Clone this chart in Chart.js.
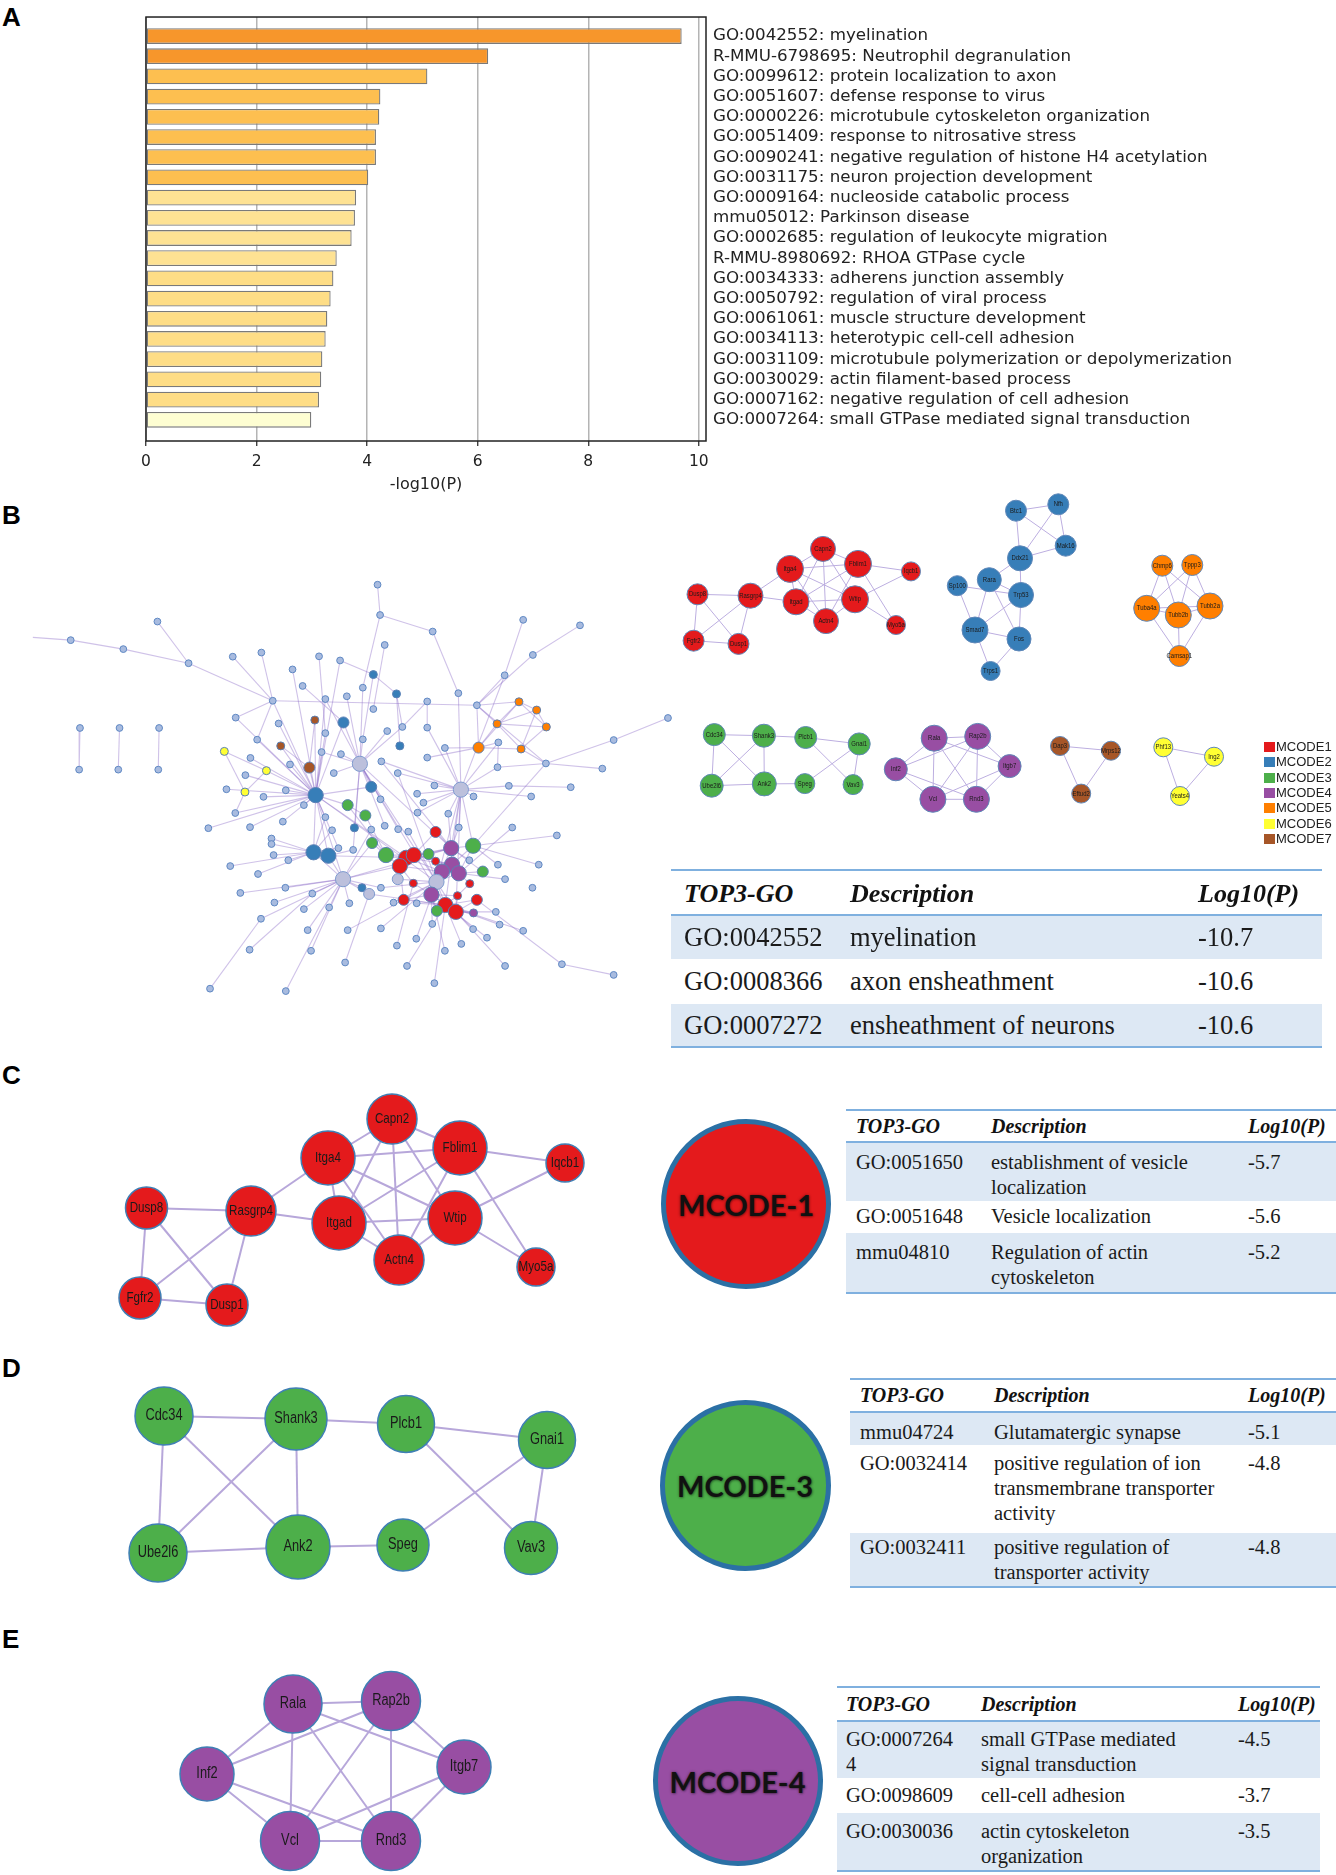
<!DOCTYPE html>
<html><head><meta charset="utf-8">
<script src="https://cdn.jsdelivr.net/npm/chart.js@4.4.0/dist/chart.umd.min.js"></script>
<style>
html,body{margin:0;padding:0;background:#fff;}
body{width:1336px;height:1875px;position:relative;overflow:hidden;font-family:"Liberation Sans",Arial,sans-serif;}
canvas{position:absolute;}
.plabel{position:absolute;font:bold 26px/26px "Liberation Sans",Arial,sans-serif;color:#000;}
.band{position:absolute;background:#dde8f4;}
.tline{position:absolute;height:2px;background:#7fb0df;}
.cell{position:absolute;font-family:"Liberation Serif","Times New Roman",serif;color:#1a1a1a;white-space:normal;}
.hcell{position:absolute;font-family:"Liberation Serif","Times New Roman",serif;font-weight:bold;font-style:italic;color:#111;white-space:nowrap;}
.mc{position:absolute;box-sizing:border-box;border:5px solid #2b70a5;border-radius:50%;display:flex;align-items:center;justify-content:center;
 font:bold 29px Lato,"Open Sans",sans-serif;color:#111;text-shadow:0 0 3px rgba(0,0,0,.45),1px 1px 2px rgba(0,0,0,.25);}
.lg{position:absolute;font:13px "Liberation Sans",Arial,sans-serif;color:#222;line-height:13px;}
.lgsq{position:absolute;width:11px;height:10px;}
</style></head><body>

<div class="plabel" style="left:2px;top:3.6px">A</div>
<div class="plabel" style="left:2px;top:501.6px">B</div>
<div class="plabel" style="left:2px;top:1061.6px">C</div>
<div class="plabel" style="left:2px;top:1354.6px">D</div>
<div class="plabel" style="left:2px;top:1626px">E</div>

<canvas id="cA" width="1336" height="500" style="left:0;top:0"></canvas>
<canvas id="cBig" width="680" height="540" style="left:0;top:490px"></canvas>
<canvas id="cMod" width="620" height="330" style="left:660px;top:490px"></canvas>
<canvas id="cC" width="560" height="260" style="left:60px;top:1080px"></canvas>
<canvas id="cD" width="560" height="230" style="left:60px;top:1370px"></canvas>
<canvas id="cE" width="420" height="225" style="left:120px;top:1650px"></canvas>
<div id="legendB"></div>
<div id="tables"></div>
<div class="mc" style="left:661px;top:1119px;width:170px;height:170px;background:#E41A1C">MCODE-1</div>
<div class="mc" style="left:659.5px;top:1399.5px;width:171px;height:171px;background:#4DAF4A">MCODE-3</div>
<div class="mc" style="left:652.5px;top:1696px;width:170px;height:170px;background:#984EA3">MCODE-4</div>

<script>
// ---------------- Panel A data ----------------
const termLabels = [
  'GO:0042552: myelination',
  'R-MMU-6798695: Neutrophil degranulation',
  'GO:0099612: protein localization to axon',
  'GO:0051607: defense response to virus',
  'GO:0000226: microtubule cytoskeleton organization',
  'GO:0051409: response to nitrosative stress',
  'GO:0090241: negative regulation of histone H4 acetylation',
  'GO:0031175: neuron projection development',
  'GO:0009164: nucleoside catabolic process',
  'mmu05012: Parkinson disease',
  'GO:0002685: regulation of leukocyte migration',
  'R-MMU-8980692: RHOA GTPase cycle',
  'GO:0034333: adherens junction assembly',
  'GO:0050792: regulation of viral process',
  'GO:0061061: muscle structure development',
  'GO:0034113: heterotypic cell-cell adhesion',
  'GO:0031109: microtubule polymerization or depolymerization',
  'GO:0030029: actin filament-based process',
  'GO:0007162: negative regulation of cell adhesion',
  'GO:0007264: small GTPase mediated signal transduction'
];
const termValues = [9.69, 6.19, 5.09, 4.24, 4.22, 4.16, 4.16, 4.02, 3.80, 3.78, 3.72, 3.45, 3.39, 3.34, 3.28, 3.25, 3.19, 3.17, 3.13, 2.99];
const xAxisTitle = '-log10(P)';

// ---------------- Panel B big network (layout units) ----------------
const bigX = [78,897,903,1028,914,374,168,293,448,553,
 621,758,808,695,719,1243,1378,1266,1199,1089,
 1133,1015,887,942,862,824,773,648,887,560,
 662,748,816,773,862,920,956,1015,1233,1275,
 1181,1298,1137,1238,1184,1458,1587,1297,1431,1356,
 1209,1262,1182,1057,1015,950,906,945,855,810,
 764,667,611,595,533,633,583,689,735,793,
 538,582,626,679,750,722,882,904,1095,1125,
 1032,991,1006,992,826,868,773,672,594,559,
 495,645,842,789,882,914,946,970,1035,1090,
 1065,1217,1323,884,917,965,983,1018,1035,1072,
 1124,1074,1090,1050,950,1147,1116,1200,1280,1183,
 1115,1265,745,780,804,839,685,650,547,613,
 645,815,945,982,1037,860,877,905,1025,959,
 1087,1133,1058,1083,1038,1125,1178,1187,1243,1124,
 1157,1096,1057,1027,989,935,990,943,967,1032,
 1200,1335,1458,905,830,782,742,722,678,652,
 620,571,731,826,739,820,593,499,679,190,
 188,284,281,378,376];
const bigY = [428,275,363,411,450,382,436,462,503,484,
 472,483,495,521,569,377,393,479,538,590,
 625,614,536,592,574,599,607,612,636,661,
 678,668,675,706,724,700,688,690,615,639,
 679,688,748,752,733,726,662,794,809,863,
 859,890,805,749,777,743,788,822,795,767,
 761,743,725,778,759,815,828,797,806,822,
 869,877,891,872,886,915,862,898,870,890,
 858,882,908,937,915,945,950,963,979,938,
 982,1012,981,988,986,975,985,992,993,980,
 940,980,1003,1025,1060,1068,1060,1057,1078,1040,
 1033,1088,1113,1108,1092,1108,1143,1130,1088,1088,
 1075,1155,1052,1062,1040,1045,1075,1060,1092,1115,
 1028,1130,1130,1142,1138,1155,1173,1155,1175,1190,
 1178,1190,1205,1225,1222,1228,1225,1262,1280,1275,
 1300,1318,1338,1260,1303,1198,1200,1323,1382,1432,
 1382,1377,1408,1273,1200,1212,1172,1217,1155,1198,
 1245,1170,1278,1278,1338,1372,1335,1448,1455,691,
 812,691,812,691,812];
// module membership of nodes (r,b,g,p,o,y,w = MCODE1..7; h = hub; n = other; x = off-canvas end)
const bigGroupOf = {0:'x',22:'b',23:'b',31:'w',32:'b',38:'o',39:'o',40:'o',41:'o',42:'o',43:'o',55:'b',58:'h',61:'w',64:'y',65:'y',68:'w',71:'y',
 74:'b',76:'b',78:'h',84:'g',85:'g',92:'b',98:'r',103:'g',104:'g',105:'r',106:'r',107:'g',108:'r',109:'p',110:'g',111:'p',112:'p',113:'p',
 114:'r',115:'g',116:'r',122:'b',123:'b',131:'h',132:'h',133:'r',134:'h',135:'b',136:'h',138:'p',139:'r',140:'r',141:'r',142:'r',143:'r',144:'g',145:'p'};
// node degree class (1 small, 2 medium, 3 large)
const bigDegreeOf = {0:0,32:2,42:2,58:3,68:2,74:3,76:2,78:3,84:2,85:2,98:2,103:2,104:3,105:3,106:3,107:2,109:3,110:3,111:3,112:3,113:3,
 114:3,115:2,122:3,123:3,131:3,132:2,134:3,136:2,138:3,139:2,141:2,142:3,143:3,144:2};
const bigEdges = [[0,6],[6,7],[7,8],[8,27],[5,8],[1,2],[2,3],[2,24],[3,19],[19,78],[4,28],[27,20],[9,27],[10,27],[27,74],[27,62],[27,29],
 [13,74],[14,32],[11,33],[12,22],[12,74],[22,23],[22,34],[23,36],[23,55],[24,58],[25,58],[26,58],[26,74],
 [15,18],[16,17],[17,20],[18,20],[18,78],[20,38],[20,40],[20,42],[20,47],
 [38,39],[38,40],[38,41],[38,42],[39,40],[39,41],[39,43],[40,42],[40,41],[41,43],[42,43],[40,43],
 [42,54],[42,53],[43,47],[44,42],[44,52],[46,45],[45,47],[47,48],[47,110],[47,52],
 [49,50],[50,78],[51,78],[52,78],[53,78],[37,78],[44,78],[21,37],[21,36],[29,74],[30,74],[31,68],[31,74],[32,74],[32,58],[33,74],
 [34,58],[35,58],[36,58],[59,58],[60,74],[60,58],[61,68],[61,74],[62,74],[63,74],[64,65],[64,71],[65,71],[65,74],[66,74],[67,74],[68,74],
 [69,58],[70,74],[71,89],[72,74],[73,74],[75,74],[76,58],[76,74],[77,58],
 [78,79],[78,80],[78,81],[78,82],[78,83],[78,99],[78,100],[78,109],[78,110],[78,134],[78,56],[78,57],[78,142],[78,143],
 [84,74],[84,85],[85,104],[84,104],[86,74],[86,122],[87,74],[88,74],[89,74],[90,74],[91,122],[92,58],[93,122],[94,131],[95,58],[96,58],
 [97,134],[98,109],[98,106],[99,109],[100,109],[101,112],[102,110],[103,131],[103,104],
 [104,105],[104,106],[104,114],[105,106],[105,109],[105,111],[105,113],[105,114],[106,107],[106,109],[106,111],[107,109],[107,113],
 [108,111],[108,113],[109,110],[109,111],[109,112],[110,111],[110,112],[111,112],[111,113],[112,113],[112,115],[113,114],[113,138],
 [114,133],[114,139],[115,109],[116,112],[116,140],[117,112],[118,110],[119,110],[120,109],
 [122,123],[122,127],[122,128],[122,129],[122,126],[122,130],[122,124],[122,74],[122,131],[123,131],[123,125],[123,74],[123,105],[124,74],[125,58],
 [131,164],[131,165],[131,166],[131,167],[131,169],[131,170],[131,168],[131,171],[131,136],[131,109],[131,114],[131,137],[131,172],[131,174],
 [132,105],[132,134],[133,138],[134,138],[134,142],[134,143],[134,109],[134,111],[134,112],[135,131],[135,136],[136,142],[137,134],
 [138,139],[138,140],[138,142],[138,143],[138,144],[139,142],[140,143],[140,142],[141,143],[141,142],[142,143],[142,144],[143,145],[144,143],[145,142],
 [146,143],[147,142],[148,142],[149,143],[150,142],[151,142],[152,138],[153,138],[154,134],[155,134],[156,142],[157,133],[158,142],[159,142],
 [160,143],[161,141],[162,161],[163,134],[173,134],[175,136],[176,166],[177,170],[178,165],[179,180],[181,182],[183,184],
 [56,109],[57,134],[74,105],[74,131],[74,134],[58,109],[58,134],[58,142]];

// ---------------- Panel B modules (layout units = page px) ----------------
const mod1Names = ['Capn2','Fblim1','Itga4','Iqcb1','Dusp8','Rasgrp4','Itgad','Wtip','Actn4','Myo5a','Fgfr2','Dusp1'];
const mod1X = [823,858,790,911,697.5,750.5,796,855,826,896,693.6,738.5];
const mod1Y = [548.9,563.9,568.9,571.4,594.3,595.7,601.8,599.3,621.1,625,640.7,643.9];
const mod1Edges = [['Dusp8','Rasgrp4'],['Dusp8','Fgfr2'],['Dusp8','Dusp1'],['Rasgrp4','Fgfr2'],['Rasgrp4','Dusp1'],['Fgfr2','Dusp1'],
 ['Rasgrp4','Itga4'],['Rasgrp4','Itgad'],['Itga4','Capn2'],['Itga4','Fblim1'],['Itga4','Itgad'],['Itga4','Actn4'],['Itga4','Wtip'],
 ['Capn2','Itgad'],['Capn2','Actn4'],['Capn2','Fblim1'],['Capn2','Wtip'],['Fblim1','Itgad'],['Fblim1','Actn4'],['Fblim1','Iqcb1'],
 ['Fblim1','Myo5a'],['Itgad','Wtip'],['Itgad','Actn4'],['Wtip','Actn4'],['Wtip','Iqcb1'],['Wtip','Myo5a']];
const mod2Names = ['Btc1','Nfh','Mak16','Ddx21','Rara','Sp100','Trp53','Smad7','Fos','Trps1'];
const mod2X = [1016,1058.3,1065.7,1020,989.3,957.3,1021,975,1019,990.6];
const mod2Y = [510.7,504.3,545.7,558.3,579.7,585.7,595,630,639,671];
const mod2Edges = [['Btc1','Nfh'],['Btc1','Ddx21'],['Btc1','Mak16'],['Nfh','Ddx21'],['Nfh','Mak16'],['Ddx21','Mak16'],['Ddx21','Rara'],
 ['Ddx21','Trp53'],['Rara','Trp53'],['Sp100','Trp53'],['Sp100','Smad7'],['Rara','Smad7'],['Rara','Fos'],['Trp53','Smad7'],['Trp53','Fos'],
 ['Smad7','Fos'],['Smad7','Trps1'],['Fos','Trps1']];
const mod3Names = ['Cdc34','Shank3','Plcb1','Gnai1','Ube2l6','Ank2','Speg','Vav3'];
const mod3X = [714.3,763.9,805.7,859.2,711.7,764.3,804.8,853.1];
const mod3Y = [734.6,735.7,737.5,743.9,785.7,783.9,783.6,784.6];
const mod3Edges = [['Cdc34','Shank3'],['Cdc34','Ube2l6'],['Cdc34','Ank2'],['Shank3','Ube2l6'],['Shank3','Ank2'],['Shank3','Plcb1'],
 ['Ube2l6','Ank2'],['Ank2','Speg'],['Plcb1','Gnai1'],['Plcb1','Vav3'],['Gnai1','Speg'],['Gnai1','Vav3']];
const mod4Names = ['Rala','Rap2b','Inf2','Itgb7','Vcl','Rnd3'];
const mod4X = [934.2,977.7,895.8,1009.6,932.9,976.4];
const mod4Y = [738.2,736.4,769.3,766.1,799.3,799.3];
const mod4Edges = [['Rala','Rap2b'],['Rala','Inf2'],['Rala','Vcl'],['Rala','Rnd3'],['Rala','Itgb7'],['Rap2b','Inf2'],['Rap2b','Vcl'],
 ['Rap2b','Rnd3'],['Rap2b','Itgb7'],['Inf2','Vcl'],['Inf2','Rnd3'],['Itgb7','Vcl'],['Itgb7','Rnd3'],['Vcl','Rnd3']];
const mod5Names = ['Chmp6','Tppp3','Tuba4a','Tubb2b','Tubb2a','Camsap1'];
const mod5X = [1162.3,1192.3,1146.7,1178.3,1210,1179.3];
const mod5Y = [565.7,565,608.3,615,606,656];
const mod5Edges = [['Chmp6','Tuba4a'],['Chmp6','Tubb2b'],['Chmp6','Tubb2a'],['Tppp3','Tuba4a'],['Tppp3','Tubb2b'],['Tppp3','Tubb2a'],
 ['Tuba4a','Tubb2b'],['Tuba4a','Tubb2a'],['Tubb2b','Tubb2a'],['Tuba4a','Camsap1'],['Tubb2b','Camsap1'],['Tubb2a','Camsap1']];
const mod6Names = ['Phf13','Ing2','Yeats4'];
const mod6X = [1163.3,1214,1180];
const mod6Y = [747.3,756.7,796];
const mod6Edges = [['Phf13','Ing2'],['Phf13','Yeats4'],['Ing2','Yeats4']];
const mod7Names = ['Dap3','Mrps12','Eftud2'];
const mod7X = [1060,1111,1081.2];
const mod7Y = [746,750.7,793.6];
const mod7Edges = [['Dap3','Mrps12'],['Dap3','Eftud2'],['Mrps12','Eftud2']];
const legendNames = ['MCODE1','MCODE2','MCODE3','MCODE4','MCODE5','MCODE6','MCODE7'];

// ---------------- Panels C, D, E networks (layout units = page px) ----------------
const cNames = mod1Names;
const cX = [392,460,328,565,146.5,251,339,455,399,536,140,227];
const cY = [1119,1148,1158,1163,1208,1211,1223,1218,1260,1267,1298,1305];
const cEdges = mod1Edges;
const dNames = mod3Names;
const dX = [164,296,406,547,158,298,403,531];
const dY = [1416,1419,1424,1440,1553,1547,1545,1548];
const dEdges = mod3Edges;
const eNames = mod4Names;
const eX = [293,391,207,464,290,391];
const eY = [1704,1701,1774,1767,1841,1841];
const eEdges = mod4Edges;

// ---------------- Tables ----------------
const tbHeader = ['TOP3-GO','Description','Log10(P)'];
const tBIds = ['GO:0042552','GO:0008366','GO:0007272'];
const tBDesc = ['myelination','axon ensheathment','ensheathment of neurons'];
const tBLog = ['-10.7','-10.6','-10.6'];
const tCIds = ['GO:0051650','GO:0051648','mmu04810'];
const tCDesc = ['establishment of vesicle localization','Vesicle localization','Regulation of actin cytoskeleton'];
const tCLog = ['-5.7','-5.6','-5.2'];
const tDIds = ['mmu04724','GO:0032414','GO:0032411'];
const tDDesc = ['Glutamatergic synapse','positive regulation of ion transmembrane transporter activity','positive regulation of transporter activity'];
const tDLog = ['-5.1','-4.8','-4.8'];
const tEIds = ['GO:00072644','GO:0098609','GO:0030036'];
const tEDesc = ['small GTPase mediated signal transduction','cell-cell adhesion','actin cytoskeleton organization'];
const tELog = ['-4.5','-3.7','-3.5'];

// ================= styles =================
const barColors = ['#F7962B','#F7962B','#FDBF50','#FDBF50','#FDBF50','#FDBF50','#FDBF50','#FDBF50',
 '#FEE293','#FEE293','#FEE293','#FEE293','#FEDD86','#FEDD86','#FEDD86','#FEDD86','#FEDD86','#FEDD86','#FEDD86','#FEFED2'];
const modColor = {r:'#E41A1C', b:'#377EB8', g:'#4DAF4A', p:'#984EA3', o:'#FF7F00', y:'#FFFF33', w:'#A65628'};
const legendColors = [modColor.r, modColor.b, modColor.g, modColor.p, modColor.o, modColor.y, modColor.w];

Chart.defaults.animation = false;
Chart.defaults.responsive = false;
Chart.defaults.devicePixelRatio = 1;
Chart.defaults.plugins.legend.display = false;
Chart.defaults.plugins.tooltip.enabled = false;

// ---------- Panel A ----------
const boxPlugin = { id:'box', afterDatasetsDraw(chart){ const {ctx, chartArea:a} = chart; ctx.save(); ctx.strokeStyle='#222'; ctx.lineWidth=1.5;
  ctx.strokeRect(a.left, a.top, a.right-a.left, a.bottom-a.top); ctx.restore(); } };
new Chart(document.getElementById('cA'), {
  type:'bar',
  data:{ datasets:[{ data: termValues.map((v,i)=>({x:v, y:i})), backgroundColor: barColors, borderColor:'#7a7a7a', borderWidth:1.3,
    borderSkipped:false, barPercentage:0.78, categoryPercentage:1 }]},
  options:{
    indexAxis:'y',
    layout:{padding:{left:146, top:13.5, right:0, bottom:0}, autoPadding:false},
    scales:{
      x:{ type:'linear', bounds:'data', min:0, max:10.13, afterFit:s=>{ s.height = 59; },
        ticks:{ stepSize:2, includeBounds:false, font:{family:'DejaVu Sans', size:15.5}, color:'#222', padding:7 },
        grid:{ color:'#b4b4b4', lineWidth:1.5, tickLength:5, tickColor:'#222', tickWidth:1.2 },
        border:{ display:false },
        title:{ display:true, text:xAxisTitle, font:{family:'DejaVu Sans', size:16}, color:'#222', padding:{top:0,bottom:6} } },
      y:{ type:'linear', bounds:'data', offset:false, position:'right', reverse:true, min:-0.94, max:20.05,
        afterFit:s=>{ s.width = 630; },
        afterBuildTicks:s=>{ s.ticks = termLabels.map((_,i)=>({value:i})); },
        ticks:{ autoSkip:false, padding:7, color:'#222', font:{family:'DejaVu Sans', size:16.7},
          callback:(v,i) => termLabels[i] },
        grid:{ display:false, drawTicks:false, offset:false }, border:{ display:false } }
    }
  },
  plugins:[boxPlugin]
});

// ---------- network helper ----------
const nodeLabelPlugin = {
  id:'nodeLabels',
  afterDatasetsDraw(chart, args, opts){
    if (!opts || !opts.names) return;
    const meta = chart.getDatasetMeta(0); const ctx = chart.ctx;
    ctx.save(); ctx.fillStyle = opts.color || '#111'; ctx.textAlign='center'; ctx.textBaseline='middle';
    meta.data.forEach((el,i)=>{
      const n = opts.names[i]; if (!n) return;
      ctx.save(); ctx.translate(el.x, el.y + (opts.dy||0)); ctx.scale(opts.scaleX||1, 1);
      ctx.font = opts.size + 'px "Liberation Sans", Arial, sans-serif'; ctx.fillText(n, 0, 0); ctx.restore();
    });
    ctx.restore();
  }
};
function network(canvasId, xs, ys, edges, view, st){
  const nodeData = xs.map((v,i)=>({x:v, y:ys[i]}));
  const edgeSets = edges.map(([a,b])=>({
    data:[nodeData[a], nodeData[b]], showLine:true, borderColor:st.edgeColor, borderWidth:st.edgeWidth,
    pointRadius:0, pointHoverRadius:0, fill:false, tension:0, clip:false }));
  new Chart(document.getElementById(canvasId), {
    type:'scatter',
    data:{ datasets:[{ data:nodeData, pointRadius:st.radii, pointHoverRadius:st.radii, backgroundColor:st.fills,
      borderColor:st.border, borderWidth:st.borderWidth, clip:false }, ...edgeSets] },
    options:{
      layout:{padding:0, autoPadding:false},
      scales:{ x:{type:'linear', bounds:'data', min:view[0], max:view[1], display:false},
               y:{type:'linear', bounds:'data', min:view[2], max:view[3], reverse:true, display:false} },
      plugins:{ nodeLabels: st.labels || {} }
    },
    plugins:[nodeLabelPlugin]
  });
}
function idxEdges(names, pairs){ const m = {}; names.forEach((n,i)=>m[n]=i); return pairs.map(([a,b])=>[m[a],m[b]]); }

// ---------- Big network ----------
(function(){
  const groups = bigX.map((_,i)=> bigGroupOf[i] || 'n');
  const deg = bigX.map((_,i)=> bigDegreeOf[i] === undefined ? 1 : bigDegreeOf[i]);
  const fills = groups.map(g => g==='n' ? '#a8bbdf' : g==='h' ? '#bcc0dc' : g==='x' ? 'rgba(0,0,0,0)' : modColor[g]);
  const borders = groups.map(g => g==='x' ? 'rgba(0,0,0,0)' : g==='n' ? '#5f88c3' : g==='h' ? '#7f9bcf' : '#5a80b5');
  const radii = deg.map((d,i)=> d===0 ? 0 : d===1 ? (groups[i]==='n' ? 3.4 : 4) : d===2 ? 5.5 : 7.6);
  network('cBig', bigX, bigY, bigEdges, [0, 680/0.4209, 0, 1568], {
    radii, fills, border:borders, borderWidth:1, edgeColor:'rgba(140,110,200,0.42)', edgeWidth:1.1 });
})();

// ---------- Module networks in B ----------
(function(){
  const mods = [[mod1Names,mod1X,mod1Y,mod1Edges,'r',[12.5,13.5,13.5,9.5,10.5,12.5,13,13.5,12.5,9.5,10.5,10.5]],
                [mod2Names,mod2X,mod2Y,mod2Edges,'b',[10.5,10.5,10.5,12.5,12,10,12.5,13,12,9.5]],
                [mod3Names,mod3X,mod3Y,mod3Edges,'g',[11,11.5,11,11,11.5,12,10,10]],
                [mod4Names,mod4X,mod4Y,mod4Edges,'p',[13,13,11.5,11.5,13,13]],
                [mod5Names,mod5X,mod5Y,mod5Edges,'o',[10.5,10.5,13,13,13,10.5]],
                [mod6Names,mod6X,mod6Y,mod6Edges,'y',[9.5,9.5,9.5]],
                [mod7Names,mod7X,mod7Y,mod7Edges,'w',[9.5,9.5,9.5]]];
  let names=[], xs=[], ys=[], edges=[], fills=[], radii=[];
  mods.forEach(([n,x,y,e,c,r])=>{
    const off = names.length;
    idxEdges(n,e).forEach(([a,b])=>edges.push([a+off,b+off]));
    names = names.concat(n); xs = xs.concat(x); ys = ys.concat(y); radii = radii.concat(r);
    n.forEach(()=>fills.push(modColor[c]));
  });
  network('cMod', xs, ys, edges, [660,1280,490,820], {
    radii, fills, border:'#5f87b8', borderWidth:1, edgeColor:'#bcaee0', edgeWidth:1,
    labels:{ names, size:7, scaleX:0.85, color:'#1a1a1a' } });
  const lg = document.getElementById('legendB');
  legendNames.forEach((t,i)=>{
    const cy = 747 + i*15.3;
    lg.insertAdjacentHTML('beforeend', `<div class="lgsq" style="left:1263.5px;top:${cy-5}px;background:${legendColors[i]}"></div>`+
      `<div class="lg" style="left:1276px;top:${cy-7}px">${t}</div>`);
  });
})();

// ---------- C, D, E ----------
network('cC', cX, cY, idxEdges(cNames,cEdges), [60,620,1080,1340], {
  radii:[25,27,27,19,21,25,27,27,25,19,21,21], fills:cNames.map(()=>modColor.r), border:'#3f7fb5', borderWidth:1.5,
  edgeColor:'#b7a7da', edgeWidth:2, labels:{ names:cNames, size:14.5, scaleX:0.8, color:'#1a1a1a' } });
network('cD', dX, dY, idxEdges(dNames,dEdges), [60,620,1370,1600], {
  radii:[29,31,28.5,28.5,29,32,26,26.5], fills:dNames.map(()=>modColor.g), border:'#3f7fb5', borderWidth:1.5,
  edgeColor:'#b7a7da', edgeWidth:2, labels:{ names:dNames, size:16, scaleX:0.8, color:'#1a1a1a' } });
network('cE', eX, eY, idxEdges(eNames,eEdges), [120,540,1650,1875], {
  radii:[29,29.5,27,27,29.5,29.5], fills:eNames.map(()=>modColor.p), border:'#3f7fb5', borderWidth:1.5,
  edgeColor:'#b7a7da', edgeWidth:2, labels:{ names:eNames, size:16, scaleX:0.8, color:'#1a1a1a' } });

// ---------- Tables ----------
function table(ids, desc, logs, L){
  const host = document.getElementById('tables');
  let h = '';
  h += `<div class="tline" style="left:${L.left}px;top:${L.top-1}px;width:${L.width}px"></div>`;
  tbHeader.forEach((t,k)=>{
    h += `<div class="hcell" style="left:${L.left+L.cols[k]}px;top:${L.top+L.hPad}px;font-size:${L.hFont}px;line-height:${L.lh}px">${t}</div>`;
  });
  let y = L.top + L.headH;
  h += `<div class="tline" style="left:${L.left}px;top:${y-1}px;width:${L.width}px;height:2.5px"></div>`;
  ids.forEach((id,r)=>{
    const rh = L.rows[r];
    if (r % 2 === 0) h += `<div class="band" style="left:${L.left}px;top:${y+1}px;width:${L.width}px;height:${rh-1}px"></div>`;
    const vals = [id, desc[r], logs[r]];
    vals.forEach((t,k)=>{
      const extra = k===0 ? `width:${L.idW}px;word-break:break-all;` : k===1 ? `width:${L.descW}px;` : '';
      h += `<div class="cell" style="left:${L.left+L.cols[k]}px;top:${y+L.pads[r]}px;font-size:${L.font}px;line-height:${L.lh}px;${extra}">${t}</div>`;
    });
    y += rh;
  });
  h += `<div class="tline" style="left:${L.left}px;top:${y-1}px;width:${L.width}px"></div>`;
  host.insertAdjacentHTML('beforeend', h);
}
table(tBIds, tBDesc, tBLog, {left:671, width:651, top:870, headH:45, hPad:8.6, hFont:26, font:26.5, lh:30,
  cols:[13,179,527], rows:[44,44,44], pads:[7,7,7], idW:160, descW:340});
table(tCIds, tCDesc, tCLog, {left:846, width:490, top:1110, headH:32, hPad:4, hFont:20, font:20.5, lh:25,
  cols:[10,145,402], rows:[59,31,61], pads:[7.5,3,8], idW:130, descW:245});
table(tDIds, tDDesc, tDLog, {left:850, width:486, top:1379, headH:33, hPad:4, hFont:20, font:20.5, lh:25,
  cols:[10,144,398], rows:[33,87,55], pads:[7.5,5.5,2.5], idW:130, descW:235});
table(tEIds, tEDesc, tELog, {left:837, width:483, top:1687, headH:34, hPad:5, hFont:20, font:20.5, lh:25,
  cols:[9,144,401], rows:[57,34,59], pads:[5.5,4.5,6.5], idW:112, descW:230});
</script>
</body></html>
